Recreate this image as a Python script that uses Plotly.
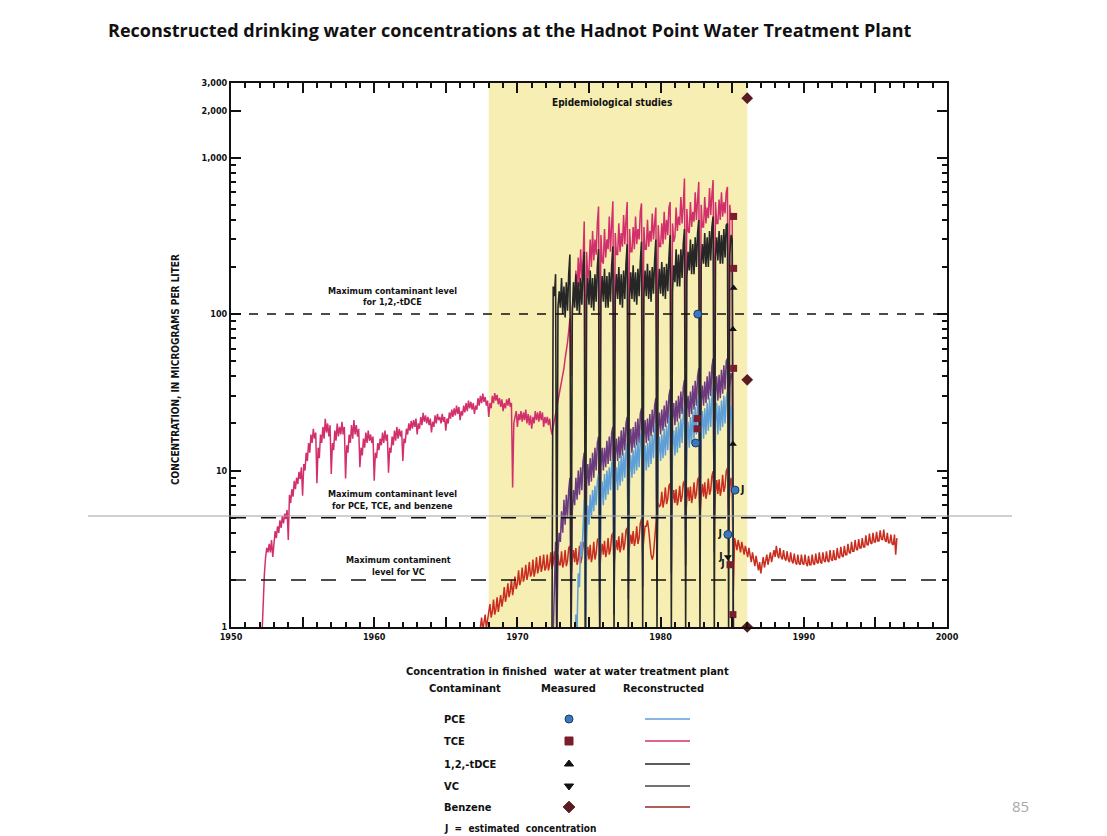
import numpy as np
import plotly.graph_objects as go

W, H = 1107, 836

# ---------------- reconstructed monthly series (micrograms per liter) ----------------
TCE_START = 1952 + 2 / 12  # March 1952
TCE = [
    0.9, 1.5, 2.2, 2.8, 3.2, 3.0, 3.4, 3.0, 3.6, 2.8,                      # 1952 Mar-Dec
    3.4, 4.1, 3.7, 4.4, 4.0, 4.8, 4.3, 5.1, 4.6, 5.3, 4.9, 5.6,            # 1953
    3.6, 7.0, 6.2, 7.6, 6.8, 8.6, 7.6, 9.0, 8.2, 9.8, 8.8, 10.5,           # 1954
    6.9, 11.0, 10.0, 13.0, 11.5, 15.0, 13.0, 17.0, 15.0, 18.5, 16.0, 17.5, # 1955
    8.3, 14.0, 12.0, 17.0, 15.0, 19.0, 16.0, 21.4, 17.5, 20.0, 16.5, 19.5, # 1956
    9.5, 15.0, 13.5, 18.0, 15.5, 20.0, 16.5, 19.0, 17.0, 20.5, 17.0, 19.0, # 1957
    8.9, 14.5, 13.0, 17.0, 15.0, 19.5, 16.0, 21.0, 17.0, 19.5, 16.5, 18.5, # 1958
    10.5, 14.0, 12.5, 16.0, 14.0, 17.5, 15.0, 18.0, 15.5, 17.0, 15.0, 16.5,# 1959
    8.6, 13.0, 12.0, 15.0, 13.5, 16.0, 14.5, 17.5, 15.0, 18.0, 15.5, 17.0, # 1960
    9.7, 14.0, 13.0, 16.5, 14.5, 18.0, 15.5, 19.0, 16.0, 18.5, 16.5, 18.0, # 1961
    11.5, 16.0, 15.0, 18.5, 17.0, 20.0, 18.0, 20.8, 18.5, 21.0, 19.0, 21.5,# 1962
    17.0, 20.0, 18.5, 22.0, 19.5, 23.4, 20.5, 22.5, 20.0, 22.0, 19.5, 21.5,# 1963
    17.5, 20.5, 19.0, 22.5, 20.0, 23.0, 21.0, 22.0, 20.0, 23.0, 20.5, 22.0,# 1964
    18.0, 21.5, 20.0, 23.5, 21.5, 24.5, 22.0, 25.0, 22.5, 26.0, 23.0, 25.5,# 1965
    21.0, 24.0, 22.5, 26.0, 23.5, 27.0, 24.0, 28.0, 25.0, 27.5, 24.5, 27.0,# 1966
    23.0, 26.0, 24.5, 29.0, 26.0, 30.0, 27.0, 31.0, 27.5, 29.5, 26.0, 28.0,# 1967
    22.0, 27.0, 25.0, 30.0, 27.0, 31.3, 28.0, 30.5, 26.5, 29.0, 25.5, 28.5,# 1968
    24.0, 27.0, 25.0, 28.5, 26.0, 29.0, 25.5, 27.0, 7.8, 20.0, 22.0, 24.0, # 1969
    19.0, 23.0, 21.0, 24.0, 20.5, 23.5, 21.0, 24.5, 20.0, 23.0, 19.5, 22.5,# 1970
    18.5, 22.0, 20.0, 24.0, 21.0, 23.5, 20.5, 24.0, 21.0, 23.5, 19.0, 22.0,# 1971
    20.0, 22.0, 19.5, 21.5, 18.5, 17.0, 19.0, 21.0, 23.0, 25.0, 27.0, 30.0,# 1972
    33, 36, 40, 45, 52, 58, 66, 78, 94, 40, 110, 130,                      # 1973
    120, 190, 130, 230, 150, 260, 170, 220, 390, 30, 250, 170,             # 1974
    190, 300, 200, 340, 220, 300, 240, 380, 487, 30, 320, 220,             # 1975
    210, 350, 230, 300, 260, 420, 250, 380, 526, 35, 330, 240,             # 1976
    240, 380, 250, 330, 270, 430, 280, 400, 520, 35, 350, 250,             # 1977
    250, 360, 260, 420, 280, 350, 300, 450, 510, 40, 360, 260,             # 1978
    260, 400, 270, 340, 290, 440, 300, 380, 480, 40, 370, 270,             # 1979
    270, 380, 280, 450, 300, 400, 320, 480, 520, 40, 380, 290,             # 1980
    310, 480, 340, 420, 370, 560, 380, 500, 735, 45, 470, 340,             # 1981
    330, 520, 360, 450, 390, 600, 400, 540, 700, 45, 500, 360,             # 1982
    360, 560, 380, 480, 410, 640, 430, 580, 720, 45, 520, 380,             # 1983
    380, 540, 400, 600, 420, 520, 440, 600, 650, 40, 500, 400,             # 1984
    430, 0.9,                                                              # 1985 Jan-Feb
]

TDCE_START = 1972 + 5 / 12  # June 1972
TDCE = [
    1.0, 150, 130, 180, 1.0, 110, 140,                          # 1972 Jun-Dec
    110, 170, 100, 150, 95, 160, 105, 180, 240, 0.8, 100, 160,  # 1973
    110, 180, 105, 160, 100, 170, 115, 190, 250, 0.8, 115, 170, # 1974
    115, 190, 110, 170, 105, 180, 120, 200, 260, 0.8, 120, 175, # 1975
    120, 195, 110, 175, 110, 185, 120, 205, 270, 0.9, 125, 180, # 1976
    125, 200, 115, 180, 110, 190, 125, 210, 280, 0.9, 125, 185, # 1977
    125, 205, 120, 185, 115, 195, 130, 215, 290, 1.0, 130, 190, # 1978
    130, 210, 125, 190, 120, 200, 135, 220, 300, 1.0, 135, 195, # 1979
    135, 215, 130, 200, 125, 210, 140, 230, 320, 1.0, 140, 205, # 1980
    160, 260, 150, 240, 150, 260, 170, 280, 350, 1.0, 170, 250, # 1981
    190, 300, 180, 280, 180, 310, 200, 330, 400, 1.0, 200, 280, # 1982
    210, 330, 200, 310, 200, 340, 220, 360, 420, 1.0, 230, 310, # 1983
    220, 340, 210, 320, 210, 350, 230, 370, 380, 1.0, 240, 320, # 1984
    300, 0.8,                                                   # 1985 Jan-Feb
]

PCE_START = 1974.0
PCE = [
    0.5, 1.2, 1.0, 2.2, 1.8, 3.5, 2.8, 5.0, 6.5, 0.8, 3.5, 6.0,           # 1974
    4.5, 7.0, 5.0, 7.5, 5.5, 8.0, 6.0, 8.5, 9.5, 1.15, 6.0, 8.5,          # 1975
    6.0, 9.5, 6.5, 10.0, 7.0, 10.5, 7.5, 11.0, 12.0, 1.34, 8.0, 10.5,     # 1976
    7.5, 11.5, 8.0, 12.5, 8.5, 13.0, 9.0, 13.5, 15.0, 2.0, 9.5, 12.5,     # 1977
    9.0, 13.5, 9.5, 14.5, 10.0, 15.5, 10.5, 16.0, 18.0, 2.3, 11.0, 14.5,  # 1978
    10.0, 15.0, 10.5, 16.5, 11.0, 17.0, 12.0, 18.0, 20.0, 2.6, 12.5, 16.5,# 1979
    11.5, 17.0, 12.0, 18.5, 12.5, 19.5, 13.5, 20.5, 23.0, 3.0, 14.0, 18.0,# 1980
    12.5, 19.0, 13.0, 20.5, 14.0, 21.5, 15.0, 23.0, 26.0, 3.4, 15.5, 20.5,# 1981
    14.0, 22.0, 15.0, 24.0, 16.0, 25.5, 17.0, 27.0, 30.0, 4.5, 18.0, 24.0,# 1982
    16.0, 25.0, 17.0, 27.0, 18.0, 29.0, 19.0, 30.0, 34.0, 5.0, 20.0, 27.0,# 1983
    17.0, 26.0, 18.0, 28.0, 19.0, 30.0, 20.0, 29.0, 32.0, 5.5, 19.0, 26.0,# 1984
    20.0, 0.8,                                                            # 1985 Jan-Feb
]

VC_START = 1972 + 6 / 12  # July 1972
VC = [
    0.9, 2.0, 3.5, 0.8, 3.0, 4.0,                                         # 1972 Jul-Dec
    3.5, 5.5, 4.0, 6.5, 4.5, 7.0, 5.0, 7.5, 9.0, 0.8, 5.5, 7.5,           # 1973
    6.0, 9.0, 6.5, 10.0, 7.0, 10.5, 7.5, 11.5, 13.0, 0.9, 8.0, 11.0,      # 1974
    8.0, 12.0, 8.5, 13.0, 9.0, 14.0, 10.0, 15.0, 16.5, 1.0, 10.5, 14.0,   # 1975
    10.0, 14.0, 10.5, 15.5, 11.0, 16.5, 11.5, 17.5, 19.0, 1.2, 12.5, 16.0,# 1976
    11.5, 16.5, 12.0, 18.0, 12.5, 19.0, 13.5, 20.0, 22.0, 1.5, 14.0, 18.5,# 1977
    13.0, 19.0, 14.0, 20.5, 14.5, 21.5, 15.0, 23.0, 25.0, 1.8, 16.0, 21.0,# 1978
    15.0, 21.5, 15.5, 23.0, 16.5, 24.5, 17.5, 26.0, 29.0, 2.0, 18.0, 23.5,# 1979
    17.0, 24.5, 18.0, 26.0, 19.0, 28.0, 20.0, 30.0, 33.0, 2.2, 21.0, 27.0,# 1980
    19.5, 28.0, 20.5, 30.0, 21.5, 32.0, 23.0, 34.0, 38.0, 2.5, 24.0, 30.0,# 1981
    22.0, 32.0, 23.0, 35.0, 24.5, 37.5, 26.0, 40.0, 45.0, 2.8, 27.0, 35.0,# 1982
    26.0, 37.0, 27.0, 40.0, 28.5, 43.0, 30.0, 46.0, 52.0, 3.0, 31.0, 40.0,# 1983
    28.0, 41.0, 29.0, 44.0, 31.0, 47.0, 33.0, 50.0, 52.0, 3.0, 34.0, 42.0,# 1984
    38.0, 0.8,                                                            # 1985 Jan-Feb
]

BENZ_START = 1967 + 5 / 12  # June 1967
BENZENE = [
    1.0, 1.15, 0.95, 1.05, 1.2, 0.98, 1.1,                                # 1967 Jun-Dec
    1.2, 1.4, 1.15, 1.25, 1.5, 1.2, 1.3, 1.55, 1.25, 1.4, 1.6, 1.35,      # 1968
    1.5, 1.8, 1.45, 1.6, 1.9, 1.55, 1.7, 2.0, 1.6, 1.8, 2.1, 1.75,        # 1969
    1.9, 2.3, 1.85, 2.0, 2.4, 1.95, 2.1, 2.5, 2.0, 2.2, 2.6, 2.1,         # 1970
    2.2, 2.7, 2.1, 2.3, 2.8, 2.2, 2.4, 2.85, 2.25, 2.45, 2.9, 2.3,        # 1971
    2.4, 2.9, 2.3, 2.5, 3.0, 2.35, 2.55, 3.05, 2.4, 2.1, 2.9, 2.5,        # 1972
    2.5, 3.05, 2.4, 2.6, 3.1, 2.45, 2.65, 3.2, 3.3, 2.1, 2.7, 3.1,        # 1973
    2.6, 3.2, 2.5, 2.7, 3.3, 2.55, 2.8, 3.4, 3.5, 2.2, 2.8, 3.25,         # 1974
    2.7, 3.35, 2.6, 2.85, 3.5, 2.7, 2.95, 3.6, 3.7, 2.3, 2.95, 3.4,       # 1975
    2.9, 3.55, 2.8, 3.05, 3.7, 2.9, 3.15, 3.85, 4.0, 2.5, 3.1, 3.6,       # 1976
    3.1, 3.8, 3.0, 3.3, 4.0, 3.1, 3.4, 4.15, 4.3, 2.7, 3.35, 3.9,         # 1977
    3.4, 4.1, 3.3, 3.6, 4.4, 3.4, 3.7, 4.6, 4.9, 3.0, 3.7, 4.4,           # 1978
    4.4, 4.8, 4.2, 3.4, 2.9, 2.7, 2.9, 3.6, 4.6, 5.6, 6.2, 5.9,           # 1979
    6.0, 7.3, 5.8, 6.4, 7.8, 6.1, 6.6, 8.0, 8.3, 4.8, 6.4, 7.5,           # 1980
    6.2, 7.6, 6.0, 6.6, 8.0, 6.3, 6.8, 8.3, 8.6, 4.9, 6.6, 7.8,           # 1981
    6.4, 7.9, 6.2, 6.9, 8.4, 6.6, 7.1, 8.7, 9.1, 5.1, 6.9, 8.2,           # 1982
    6.8, 8.4, 6.6, 7.3, 8.9, 7.0, 7.5, 9.2, 9.9, 5.3, 7.3, 8.7,           # 1983
    7.1, 8.8, 6.9, 7.6, 9.4, 7.3, 7.9, 9.9, 10.4, 5.6, 7.6, 9.0,          # 1984
    7.5, 1.7, 3.7, 3.3, 3.1, 3.6, 3.2, 3.0, 3.5, 3.1, 2.9, 3.3,           # 1985
    3.0, 2.8, 3.2, 2.8, 2.6, 3.0, 2.6, 2.45, 2.85, 2.5, 2.3, 2.6,         # 1986
    2.2, 2.5, 2.8, 2.4, 2.6, 2.9, 2.5, 2.7, 3.0, 2.6, 2.8, 3.1,           # 1987
    2.8, 3.3, 2.9, 2.75, 3.2, 2.8, 2.7, 3.1, 2.75, 2.65, 3.05, 2.7,       # 1988
    2.6, 3.0, 2.65, 2.55, 2.95, 2.6, 2.5, 2.9, 2.55, 2.5, 2.9, 2.55,      # 1989
    2.5, 2.9, 2.55, 2.45, 2.85, 2.5, 2.5, 2.9, 2.55, 2.5, 2.95, 2.6,      # 1990
    2.55, 3.0, 2.6, 2.55, 3.0, 2.65, 2.6, 3.05, 2.65, 2.6, 3.1, 2.7,      # 1991
    2.65, 3.1, 2.7, 2.7, 3.2, 2.8, 2.75, 3.25, 2.85, 2.8, 3.3, 2.9,       # 1992
    2.9, 3.4, 3.0, 2.95, 3.5, 3.05, 3.05, 3.6, 3.15, 3.1, 3.65, 3.2,      # 1993
    3.2, 3.7, 3.25, 3.25, 3.85, 3.35, 3.35, 3.95, 3.45, 3.4, 4.0, 3.5,    # 1994
    3.5, 4.05, 3.55, 3.55, 4.15, 3.65, 3.6, 4.2, 3.6, 3.5, 4.0, 3.45,     # 1995
    3.45, 3.9, 3.4, 3.35, 3.9, 2.9, 3.7,                                  # 1996 Jan-Jul
]

# ---------------- measured concentrations ----------------
PCE_MEAS_YEAR = [1982.6, 1982.45, 1985.2, 1984.7]
PCE_MEAS = [100, 15, 7.5, 3.9]
PCE_J = ["", "", "J", "J"]

TCE_MEAS_YEAR = [1982.55, 1982.55, 1985.1, 1985.1, 1985.1, 1984.85, 1985.05]
TCE_MEAS = [18.5, 21.5, 421, 196, 45, 2.5, 1.2]
TCE_J = ["", "", "", "", "", "J", ""]

TDCE_MEAS_YEAR = [1985.1, 1985.05, 1985.05]
TDCE_MEAS = [147, 80, 14.8]

VC_MEAS_YEAR = [1984.7]
VC_MEAS = [2.8]
VC_J = ["J"]

BENZ_MEAS_YEAR = [1986.05, 1986.05, 1986.05]
BENZ_MEAS = [2400, 38, 1.0]

# ---------------- reference levels / periods ----------------
MCL_TDCE = 100
MCL_PCE_TCE_BENZ = 5
MCL_VC = 2
STUDY_PERIOD = [1968.0, 1986.05]
X_RANGE = [1950, 2000]
Y_TICKS = [1, 10, 100, 1000, 2000, 3000]
Y_TICKTEXT = ["1", "10", "100", "1,000", "2,000", "3,000"]
X_TICKS = [1950, 1955, 1960, 1965, 1970, 1975, 1980, 1985, 1990, 1995, 2000]
X_TICKTEXT = ["1950", "", "1960", "", "1970", "", "1980", "", "1990", "", "2000"]

LEGEND_NAMES = ["PCE", "TCE", "1,2,-tDCE", "VC", "Benzene"]

# ---------------- styles ----------------
NARROW = "Liberation Sans Narrow, DejaVu Sans Condensed, Arial Narrow, sans-serif"
C_TCE = "#d2306c"
C_TDCE = "#262626"
C_PCE = "#5e9fd8"
C_VC = "#6b3b80"
C_BENZ = "#c92d1f"
M_PCE = "#3b78c0"
M_TCE = "#7a1d2c"
M_BLK = "#111111"
M_BENZ = "#5a1c20"
YELLOW = "#f6eeb2"


def months(start, n):
    return start + np.arange(n) / 12.0


def P(px, py):
    return px / W, 1 - py / H


fig = go.Figure()

# reconstructed lines
series = [
    ("TCE", TCE_START, TCE, C_TCE, 1.5),
    ("Benzene", BENZ_START, BENZENE, C_BENZ, 1.5),
    ("VC", VC_START, VC, C_VC, 1.5),
    ("PCE", PCE_START, PCE, C_PCE, 1.5),
    ("1,2-tDCE", TDCE_START, TDCE, C_TDCE, 1.6),
]
for name, st, vals, col, lw in series:
    fig.add_trace(go.Scatter(x=months(st, len(vals)), y=vals, mode="lines",
                             line=dict(color=col, width=lw), name=name,
                             showlegend=False, hoverinfo="skip"))

# MCL dashed lines
for lvl, dash in [(MCL_TDCE, "dash"), (MCL_PCE_TCE_BENZ, "longdash"), (MCL_VC, "longdash")]:
    fig.add_trace(go.Scatter(x=X_RANGE, y=[lvl, lvl], mode="lines",
                             line=dict(color="#111", width=1.5, dash=dash),
                             showlegend=False, hoverinfo="skip"))

jfont = dict(family=NARROW, size=10, color="#111", weight="bold")
# measured points
fig.add_trace(go.Scatter(x=PCE_MEAS_YEAR, y=PCE_MEAS, mode="markers+text", text=PCE_J,
                         textposition=["middle right", "middle right", "middle right", "middle left"],
                         textfont=jfont, cliponaxis=False,
                         marker=dict(symbol="circle", size=8, color=M_PCE, line=dict(color="#1b3a66", width=1)),
                         showlegend=False))
fig.add_trace(go.Scatter(x=TCE_MEAS_YEAR, y=TCE_MEAS, mode="markers+text", text=TCE_J,
                         textposition="middle left", textfont=jfont, cliponaxis=False,
                         marker=dict(symbol="square", size=7, color=M_TCE), showlegend=False))
fig.add_trace(go.Scatter(x=TDCE_MEAS_YEAR, y=TDCE_MEAS, mode="markers", cliponaxis=False,
                         marker=dict(symbol="triangle-up", size=7, color=M_BLK), showlegend=False))
fig.add_trace(go.Scatter(x=VC_MEAS_YEAR, y=VC_MEAS, mode="markers+text", text=VC_J,
                         textposition="middle left", textfont=jfont, cliponaxis=False,
                         marker=dict(symbol="triangle-down", size=7, color=M_BLK), showlegend=False))
fig.add_trace(go.Scatter(x=BENZ_MEAS_YEAR, y=BENZ_MEAS, mode="markers", cliponaxis=False,
                         marker=dict(symbol="diamond", size=9, color=M_BENZ), showlegend=False))

# ---------------- legend block (pixel-space helper axes) ----------------
LEG_ROWS = [719, 741, 764, 786, 807]
leg_sym = ["circle", "square", "triangle-up", "triangle-down", "diamond"]
leg_mcol = [M_PCE, M_TCE, M_BLK, M_BLK, M_BENZ]
leg_lcol = [C_PCE, C_TCE, C_TDCE, "#444444", "#9a2a22"]
for i, yy in enumerate(LEG_ROWS):
    fig.add_trace(go.Scatter(x=[569], y=[yy], xaxis="x2", yaxis="y2", mode="markers",
                             marker=dict(symbol=leg_sym[i], size=8 if i != 4 else 9, color=leg_mcol[i],
                                         line=dict(color="#1b3a66" if i == 0 else leg_mcol[i], width=1)),
                             showlegend=False, hoverinfo="skip"))
    fig.add_trace(go.Scatter(x=[645, 690], y=[yy, yy], xaxis="x2", yaxis="y2", mode="lines",
                             line=dict(color=leg_lcol[i], width=1.5),
                             showlegend=False, hoverinfo="skip"))

# ---------------- shapes ----------------
shapes = [
    dict(type="rect", xref="x", yref="y domain", x0=STUDY_PERIOD[0], x1=STUDY_PERIOD[1],
         y0=0, y1=1, fillcolor=YELLOW, line=dict(width=0), layer="below"),
    dict(type="line", xref="paper", yref="paper", x0=88 / W, x1=1012 / W,
         y0=1 - 516 / H, y1=1 - 516 / H, line=dict(color="#a0a0a0", width=1)),
]

# ---------------- annotations ----------------
ann = []


def text(px, py, s, size=9.5, xanchor="center", family=NARROW, color="#111", bold=True, **kw):
    x, y = P(px, py)
    ann.append(dict(x=x, y=y, xref="paper", yref="paper", text=("<b>%s</b>" % s) if bold else s,
                    showarrow=False, xanchor=xanchor, yanchor="middle",
                    font=dict(family=family, size=size, color=color), **kw))


text(106, 30, "Reconstructed drinking water concentrations at the Hadnot Point Water Treatment Plant",
     size=18, xanchor="left", family="Open Sans, Lato, sans-serif")
text(612, 103, "Epidemiological studies", size=10)
text(392, 291, "Maximum contaminant level", size=9)
text(392, 302, "for 1,2,-tDCE", size=9)
text(392, 494, "Maximum contaminant level", size=9)
text(392, 506, "for PCE, TCE, and benzene", size=9)
text(398, 560, "Maximum contaminent", size=9)
text(398, 572, "level for VC", size=9)
text(176, 370, "CONCENTRATION, IN MICROGRAMS PER LITER", size=10, textangle=-90)

text(567, 671, "Concentration in finished  water at water treatment plant", size=11)
text(465, 688, "Contaminant", size=11)
text(568, 688, "Measured", size=11)
text(663, 688, "Reconstructed", size=11)
for nm, yy in zip(LEGEND_NAMES, LEG_ROWS):
    text(442, yy, nm, size=11, xanchor="left")
text(442, 828, "J  =  estimated  concentration", size=10, xanchor="left")
text(1020, 806, "85", size=15, family="Open Sans, sans-serif", color="#a8a8a8", bold=False)

# ---------------- layout ----------------
x0, _ = P(231, 0)
x1, _ = P(947, 0)
_, ytop = P(0, 83)
_, ybot = P(0, 627)

minor_y = [m * 10 ** d for d in range(0, 3) for m in range(2, 10)]

fig.update_layout(
    width=W, height=H,
    margin=dict(l=0, r=0, t=0, b=0, pad=0, autoexpand=False),
    paper_bgcolor="white", plot_bgcolor="rgba(0,0,0,0)",
    showlegend=False,
    shapes=shapes, annotations=ann,
    xaxis=dict(domain=[x0, x1], range=X_RANGE, anchor="y", automargin=False,
               tickmode="array", tickvals=X_TICKS, ticktext=X_TICKTEXT,
               ticks="inside", ticklen=10, tickwidth=1.5, tickcolor="#111",
               showline=True, linecolor="#111", linewidth=2, mirror="allticks",
               showgrid=False, zeroline=False,
               tickfont=dict(family=NARROW, size=9, color="#111", weight="bold"),
               minor=dict(tickmode="linear", tick0=1950, dtick=1, ticks="inside",
                          ticklen=5, tickwidth=1.5, tickcolor="#111", showgrid=False)),
    yaxis=dict(domain=[ybot, ytop], type="log", range=[0, np.log10(3000)], anchor="x", automargin=False,
               tickmode="array", tickvals=Y_TICKS, ticktext=Y_TICKTEXT,
               ticks="inside", ticklen=10, tickwidth=1.5, tickcolor="#111",
               showline=True, linecolor="#111", linewidth=2, mirror="allticks",
               showgrid=False, zeroline=False,
               tickfont=dict(family=NARROW, size=9, color="#111", weight="bold"),
               minor=dict(tickmode="array", tickvals=minor_y, ticks="inside",
                          ticklen=5, tickwidth=1.5, tickcolor="#111", showgrid=False)),
    xaxis2=dict(domain=[0, 1], range=[0, W], anchor="y2", visible=False, fixedrange=True, automargin=False),
    yaxis2=dict(domain=[0, 1], range=[H, 0], anchor="x2", visible=False, fixedrange=True, automargin=False),
)

fig.write_html("out.html", config={"displayModeBar": False},
               post_script="document.body.style.margin='0px';document.body.style.overflow='hidden';")
